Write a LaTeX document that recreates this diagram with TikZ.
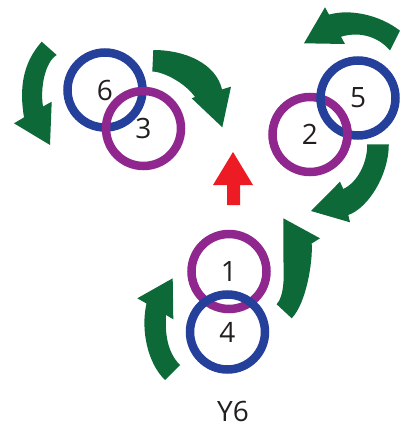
\documentclass[tikz,border=0pt]{standalone}
\usepackage{fontspec}
\setmainfont{Open Sans}
\definecolor{ringblue}{RGB}{36,64,154}
\definecolor{ringpurple}{RGB}{143,39,142}
\definecolor{arrowgreen}{RGB}{14,105,56}
\definecolor{arrowred}{RGB}{237,28,36}
\definecolor{labelgray}{RGB}{35,31,32}
\begin{document}
\begin{tikzpicture}[x=1pt,y=-1pt,
  ring/.style={circle,minimum size=75pt,inner sep=0pt,line width=8.5pt,
    font=\fontsize{28}{30}\selectfont,text=labelgray},
  bluering/.style={ring,draw=ringblue},
  purplering/.style={ring,draw=ringpurple},
  greenarrow/.style={fill=arrowgreen},
  redarrow/.style={fill=arrowred},
  caption/.style={font=\fontsize{28}{30}\selectfont,text=labelgray,inner sep=0pt}]
\useasboundingbox (0,0) rectangle (403,428);

% green curved arrows
\fill[greenarrow] (41.7,41.7) .. controls (21.7,64.2) and (19.5,90) .. (24,117.4)
  -- (14,123.3) -- (50,145) -- (51.7,101.7) -- (43,106.5)
  .. controls (40,88) and (45,62) .. (56.7,55) -- cycle;
\fill[greenarrow] (153.3,50) .. controls (186,50) and (216,64) .. (222,89.4)
  -- (231,86.7) -- (222.3,127.3) -- (191.7,98.3) -- (195,97)
  .. controls (186,84) and (165,72) .. (152.3,71.5) -- cycle;
\fill[greenarrow] (400,30.7) .. controls (380,15.2) and (350.7,8.5) .. (329,14.6)
  -- (325,7.3) -- (304,43.3) -- (345,44) -- (341,36.7)
  .. controls (362,30.5) and (380,38.5) .. (390,50.5) -- cycle;
\fill[greenarrow] (388.8,144.3) .. controls (388.8,175) and (368.2,208) .. (348.3,215)
  -- (350,222.3) -- (311,211) -- (340,181.7) -- (343.3,189)
  .. controls (358,182) and (367.5,162) .. (367.2,144.3) -- cycle;
\fill[greenarrow] (291.7,318.3) .. controls (306,303.7) and (313,262) .. (311.7,243.5)
  -- (320,238.3) -- (283.3,218.3) -- (283.3,258.3)
  .. controls (284.2,275) and (284.5,295.5) .. (276.7,304.3) -- cycle;
\fill[greenarrow] (180,365) .. controls (167,352) and (165,333) .. (166,315)
  -- (173.3,319.3) -- (172.7,278.3) -- (137.3,298.3) -- (146.5,303.5)
  .. controls (140.5,330) and (147.5,363) .. (165,380) -- cycle;

% red arrow
\fill[redarrow] (227,205) -- (227,185) -- (213,185) -- (233,152) -- (253,185)
  -- (240,185) -- (240,205) -- cycle;

% rings
\node[bluering] (n6) at (105,90) {6};
\node[purplering] (n3) at (143.5,128.5) {3};
\node[purplering] (n2) at (310,134.5) {2};
\node[bluering] (n5) at (358,98) {5};
\begin{scope}
  \clip (337,122) rectangle (358,146);
  \draw[ringpurple,line width=8.5pt] (n2.center) circle[radius=37.5];
\end{scope}
\node[purplering] (n1) at (229,271.5) {1};
\node[bluering] (n4) at (227.5,332) {4};

\node[caption] (y6) at (233,411.5) {Y6};
\end{tikzpicture}
\end{document}
